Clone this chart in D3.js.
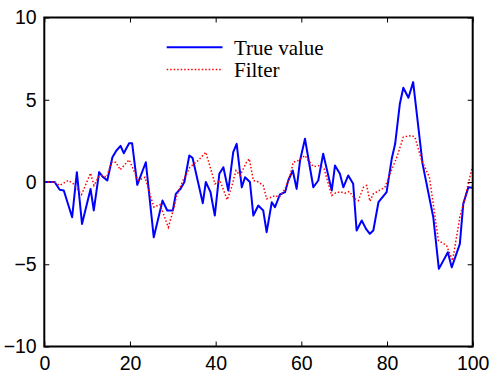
<!DOCTYPE html>
<html>
<head>
<meta charset="utf-8">
<script src="https://cdn.jsdelivr.net/npm/d3@7"></script>
<style>
  html, body { margin: 0; padding: 0; background: #fff; }
  svg { display: block; }
</style>
</head>
<body>
<svg id="chart" width="492" height="376"></svg>
<script>
// ---- data ----
const trueX = [0, 2.4, 3.6, 4.55, 6.5, 7.6, 8.8, 10.8, 11.55, 12.8, 13.7, 14.7, 15.9, 16.8, 17.8, 18.55, 19.8, 20.5, 21.7, 23.7, 25.55, 27.6, 28.7, 30, 30.7, 31.8, 32.7, 33.85, 34.6, 37, 37.7, 38.8, 39.8, 40.85, 41.8, 42.95, 44.1, 44.9, 46.1, 46.85, 48, 48.8, 49.95, 51.1, 51.9, 53.1, 53.85, 55, 56.2, 56.95, 58, 58.9, 59.7, 60.85, 62.8, 63.95, 65.1, 67.1, 67.85, 69, 69.8, 70.95, 72.1, 72.9, 74.1, 75.1, 76, 76.8, 78, 79.9, 81.1, 81.9, 83, 83.8, 85, 86.1, 88.3, 90.8, 92.1, 94.2, 95.1, 97, 97.8, 99, 100];
const trueY = [0, 0, -0.47, -0.52, -2.14, 0.6, -2.55, -0.42, -1.73, 0.6, 0.3, 0.09, 1.5, 1.9, 2.2, 1.75, 2.36, 2.36, -0.17, 1.2, -3.36, -1.13, -1.73, -1.73, -0.72, -0.41, 0, 1.61, 1.47, -1.29, 0, -0.62, -2.04, 0.5, 0.9, -0.52, 1.81, 2.32, -0.32, 0.29, 0, -2.04, -1.43, -1.73, -3.05, -1.23, -1.53, -0.76, -0.62, 0.09, 0.7, -0.42, 1.31, 2.63, -0.32, 0.09, 1.72, -0.52, 1.0, 0.5, -0.32, 0.4, -0.11, -2.95, -2.34, -2.85, -3.15, -2.95, -1.23, -0.62, 1.41, 2.32, 4.76, 5.73, 5.12, 6.07, 1.1, -2.14, -5.28, -4.27, -5.19, -3.76, -1.33, -0.32, -0.35];

const filterX = [0, 2.4, 3.6, 5.6, 6.8, 8.7, 10.8, 11.6, 12.6, 13.4, 14.55, 15.7, 16.7, 17.7, 19.8, 20.9, 21.9, 23.5, 25.1, 25.6, 27, 28.95, 30.3, 30.9, 32.45, 34, 35.95, 37.7, 39.85, 41, 42.7, 43.7, 44.75, 45.7, 47.2, 47.85, 48.8, 49.95, 51.1, 51.9, 53.1, 53.85, 54.85, 56.2, 57.5, 58.1, 59.3, 60.85, 61.6, 62.8, 64.35, 65.3, 67.1, 68.25, 69.4, 70.2, 71.2, 72.5, 73.3, 74.5, 75.25, 76, 76.8, 79.5, 80.7, 82.3, 83.8, 85.75, 86.5, 88.1, 89.9, 92, 93.9, 95.3, 97, 98.2, 100];
const filterY = [0, 0, -0.21, 0.09, -0.11, -0.76, 0.54, -0.21, 0.29, 0.4, 0.29, 1.2, 1.2, 0.74, 1.35, 0.7, 0.09, 0.29, -1.13, -1.53, -1.37, -2.75, -1.53, -0.82, 0.13, 0.9, 1.31, 1.81, -0.11, 0.09, -1.08, -0.32, 0.7, 0.4, 1.2, 1.41, 0.09, 0, -0.21, -1.02, -0.92, -0.82, -0.92, -0.42, 0.5, 1.2, 1.31, 1.61, 1.31, 0.94, 1.0, 0.8, -0.82, -0.62, -0.62, -0.68, -0.58, -1.02, -1.13, -0.32, -0.21, -1.17, -0.72, -0.32, 0.5, 1.51, 2.73, 2.83, 2.73, 1.31, 0.29, -3.56, -3.86, -4.78, -2.14, -0.92, 1.0];

const xTicks = [0, 20, 40, 60, 80, 100];
const yTicks = [-10, -5, 0, 5, 10];
const seriesNames = ["True value", "Filter"];

// ---- layout ----
const mLeft = 44.3, mRight = 472.7, mTop = 17.5, mBottom = 346.5;
const svg = d3.select("#chart");

const x = d3.scaleLinear().domain([0, 100]).range([mLeft, mRight]);
const y = d3.scaleLinear().domain([-10, 10]).range([mBottom, mTop]);

const tickFont = "'Liberation Sans', Arial, sans-serif";

function styleAxis(g, showText) {
  g.select(".domain").remove();
  g.selectAll(".tick line").attr("stroke", "#000").attr("stroke-width", 1);
  g.selectAll(".tick text")
    .attr("fill", "#000")
    .style("font-family", tickFont)
    .style("font-size", "19.5px");
  if (!showText) g.selectAll(".tick text").remove();
}

svg.append("g").attr("transform", `translate(0,${mBottom})`)
  .call(d3.axisBottom(x).tickValues(xTicks).tickSizeInner(-5).tickSizeOuter(0).tickPadding(9.5))
  .call(g => styleAxis(g, true));
svg.append("g").attr("transform", `translate(0,${mTop})`)
  .call(d3.axisTop(x).tickValues(xTicks).tickSizeInner(-5).tickSizeOuter(0))
  .call(g => styleAxis(g, false));
svg.append("g").attr("transform", `translate(${mLeft},0)`)
  .call(d3.axisLeft(y).tickValues(yTicks).tickSizeInner(-5).tickSizeOuter(0).tickPadding(7.6))
  .call(g => styleAxis(g, true));
svg.append("g").attr("transform", `translate(${mRight},0)`)
  .call(d3.axisRight(y).tickValues(yTicks).tickSizeInner(-5).tickSizeOuter(0))
  .call(g => styleAxis(g, false));

// clip
svg.append("clipPath").attr("id", "clip")
  .append("rect").attr("x", mLeft).attr("y", mTop).attr("width", mRight - mLeft).attr("height", mBottom - mTop);

const line = d3.line().x(d => x(d[0])).y(d => y(d[1]));

const trueData = trueX.map((v, i) => [v, trueY[i]]);
const filterData = filterX.map((v, i) => [v, filterY[i]]);

const plot = svg.append("g").attr("clip-path", "url(#clip)");
plot.append("path").datum(trueData)
  .attr("d", line).attr("fill", "none")
  .attr("stroke", "#0000ff").attr("stroke-width", 2).attr("stroke-linejoin", "round");
plot.append("path").datum(filterData)
  .attr("d", line).attr("fill", "none")
  .attr("stroke", "#ff0000").attr("stroke-width", 1.5).attr("stroke-dasharray", "1.5,2");

// frame
svg.append("rect")
  .attr("x", mLeft).attr("y", mTop).attr("width", mRight - mLeft).attr("height", mBottom - mTop)
  .attr("fill", "none").attr("stroke", "#000").attr("stroke-width", 2);

// legend
const legend = svg.append("g");
const legY = [47.3, 69.5];
const legStyles = [
  { stroke: "#0000ff", width: 2, dash: null },
  { stroke: "#ff0000", width: 1.5, dash: "1.5,2" }
];
seriesNames.forEach((name, i) => {
  legend.append("line")
    .attr("x1", 166.7).attr("x2", 222.5)
    .attr("y1", legY[i]).attr("y2", legY[i])
    .attr("stroke", legStyles[i].stroke)
    .attr("stroke-width", legStyles[i].width)
    .attr("stroke-dasharray", legStyles[i].dash);
  legend.append("text")
    .attr("x", 234).attr("y", legY[i] + 7.2)
    .style("font-family", "'Liberation Serif', 'Times New Roman', serif")
    .style("font-size", "21px")
    .attr("fill", "#000")
    .text(name);
});
</script>
</body>
</html>
